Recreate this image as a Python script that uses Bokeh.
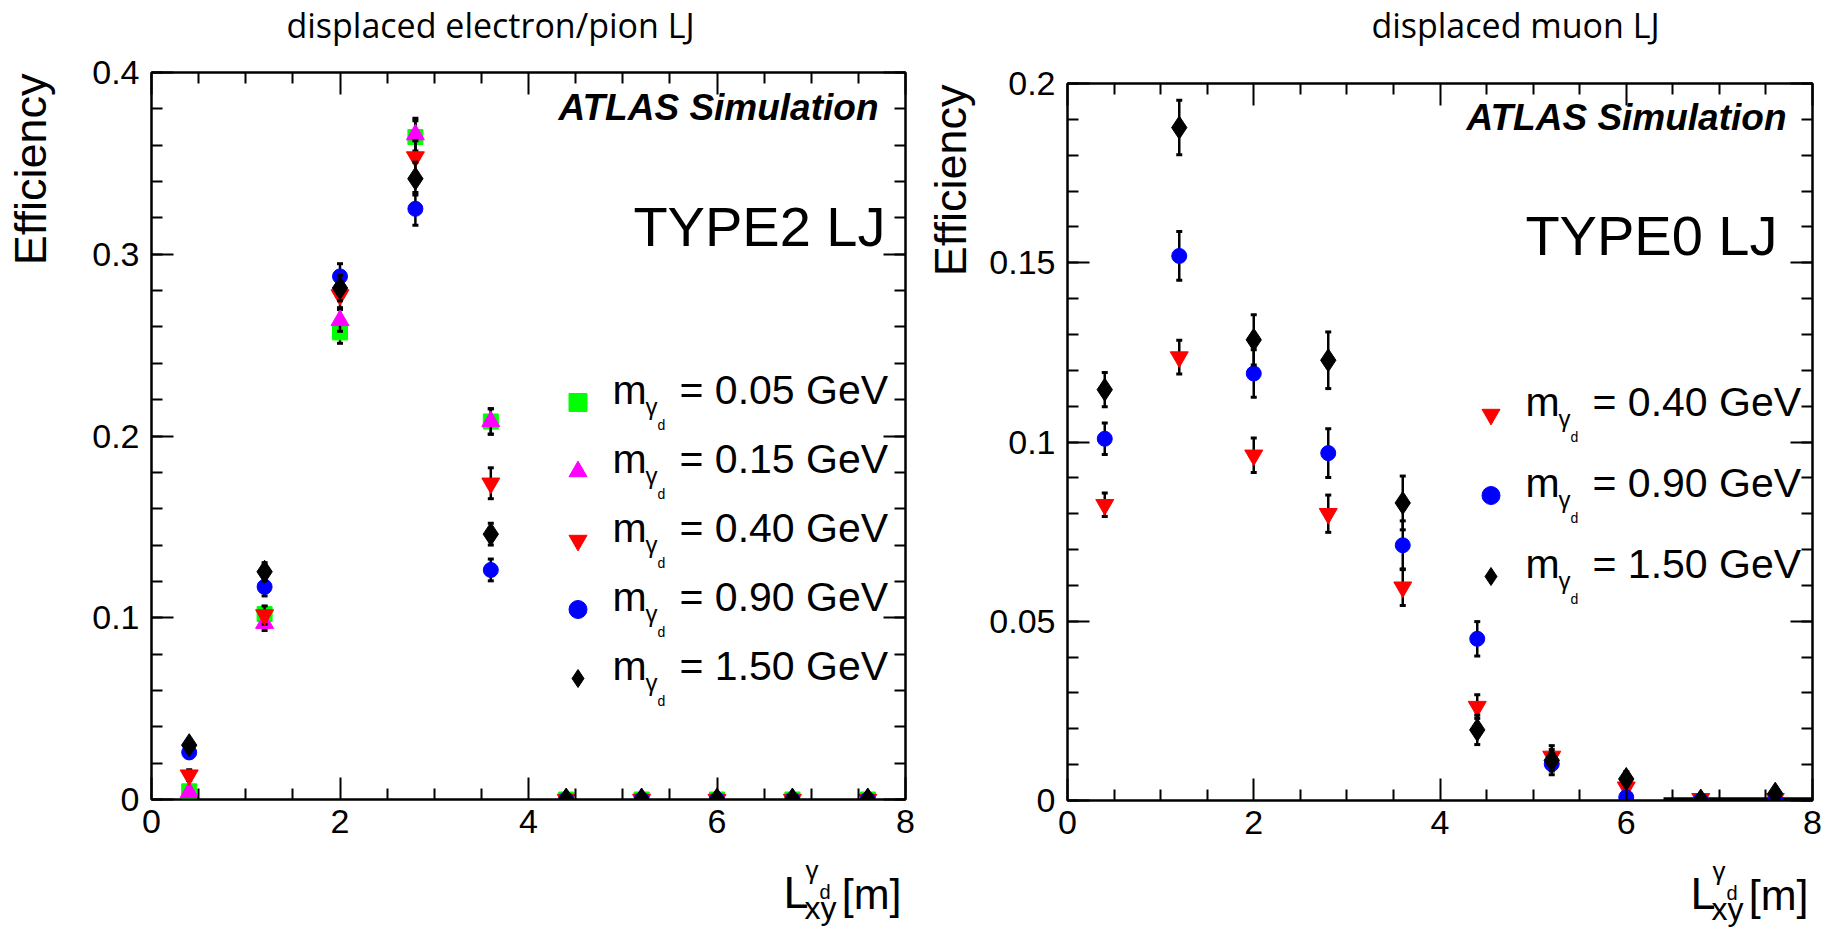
from bokeh.plotting import figure
from bokeh.models import (FixedTicker, CustomJSTickFormatter, LinearAxis, Label, Legend,
                          LegendItem, Range1d, ColumnDataSource)
from bokeh.layouts import row, column
from bokeh.embed import file_html
from bokeh.resources import INLINE
import math

# ---------------- data ----------------
x_bins = [0.4, 1.2, 2.0, 2.8, 3.6, 4.4, 5.2, 6.0, 6.8, 7.6]

# displaced electron/pion LJ (TYPE2)
ep_labels = ["0.05", "0.15", "0.40", "0.90", "1.50"]
ep_005 = [0.0045, 0.102, 0.257, 0.3645, 0.208, 0, 0, 0, 0, 0]
ep_005_err = [0.002, 0.004, 0.006, 0.009, 0.007, 0, 0, 0, 0, 0]
ep_015 = [0.004, 0.097, 0.2636, 0.3658, 0.208, 0, 0, 0, 0, 0]
ep_015_err = [0.002, 0.004, 0.006, 0.009, 0.007, 0, 0, 0, 0, 0]
ep_040 = [0.0134, 0.1015, 0.2776, 0.3535, 0.174, 0, 0, 0, 0, 0]
ep_040_err = [0.003, 0.005, 0.007, 0.009, 0.0085, 0, 0, 0, 0, 0]
ep_090 = [0.0259, 0.117, 0.2878, 0.325, 0.1263, 0, 0, 0, 0, 0]
ep_090_err = [0.003, 0.005, 0.007, 0.009, 0.006, 0, 0, 0, 0, 0]
ep_150 = [0.0299, 0.1253, 0.2814, 0.3416, 0.146, 0, 0, 0, 0, 0]
ep_150_err = [0.003, 0.005, 0.007, 0.009, 0.006, 0, 0, 0, 0, 0]

# displaced muon LJ (TYPE0)
mu_labels = ["0.40", "0.90", "1.50"]
mu_040 = [0.0825, 0.1237, 0.0963, 0.0800, 0.0595, 0.0262, 0.0123, 0.0037, 0.0005, 0.0005]
mu_040_err = [0.0033, 0.0047, 0.0048, 0.0052, 0.0051, 0.0033, 0.003, 0.002, 0.001, 0.001]
mu_040_xerr = [0, 0, 0, 0, 0, 0, 0, 0, 0.4, 0.4]
mu_090 = [0.1009, 0.1519, 0.1191, 0.0969, 0.0712, 0.0451, 0.0102, 0.0009, 0.0, 0.0]
mu_090_err = [0.0044, 0.0068, 0.0066, 0.0068, 0.0068, 0.0048, 0.003, 0.001, 0, 0]
mu_150 = [0.1146, 0.1877, 0.1285, 0.1228, 0.0830, 0.0197, 0.0112, 0.0060, 0.0, 0.0019]
mu_150_err = [0.0048, 0.0076, 0.0070, 0.0079, 0.0075, 0.0041, 0.003, 0.002, 0, 0.001]

x_ticks = [0, 2, 4, 6, 8]
x_minor = [0.5, 1, 1.5, 2.5, 3, 3.5, 4.5, 5, 5.5, 6.5, 7, 7.5]
ep_yticks = [0, 0.1, 0.2, 0.3, 0.4]
ep_yminor = [round(0.02 * i, 2) for i in range(21)]
mu_yticks = [0, 0.05, 0.1, 0.15, 0.2]
mu_yminor = [round(0.01 * i, 2) for i in range(21)]

FONT = "Liberation Sans"
TITLE_FONT = "Open Sans"
TICK_FS = "34px"
K_BASE = 0.39   # observed baseline offset of Label text (fraction of font size)

# page layout (pixels)
TITLE_H = 48
MID_H = 807
XLAB_H = 72
YLAB_W = 66


def fmt():
    return CustomJSTickFormatter(code="return String(+tick.toFixed(3));")


def style_axis(ax, show_labels):
    ax.major_tick_in = 22
    ax.major_tick_out = 0
    ax.minor_tick_in = 11
    ax.minor_tick_out = 0
    ax.major_tick_line_width = 2
    ax.minor_tick_line_width = 2
    ax.axis_line_width = 2
    ax.major_tick_line_color = "black"
    ax.minor_tick_line_color = "black"
    ax.axis_line_color = "black"
    if show_labels:
        ax.major_label_text_font = FONT
        ax.major_label_text_font_size = TICK_FS
        ax.major_label_text_color = "black"
    else:
        ax.major_label_text_font_size = "0px"
        ax.major_label_standoff = 0


def blank(W, H):
    f = figure(width=W, height=H, x_range=Range1d(0, 1), y_range=Range1d(0, 1),
               output_backend="svg", toolbar_location=None, title=None,
               x_axis_location=None, y_axis_location=None, min_border=0)
    f.outline_line_color = None
    f.xgrid.grid_line_color = None
    f.ygrid.grid_line_color = None
    f.background_fill_color = "white"
    f.border_fill_color = "white"
    return f


def make_panel(W, H, bl, br, bt, bb, ymax, yticks, yminor):
    p = figure(width=W, height=H, x_range=Range1d(0, 8), y_range=Range1d(0, ymax),
               output_backend="svg", toolbar_location=None, title=None,
               x_axis_location=None, y_axis_location=None,
               min_border_left=bl, min_border_right=br,
               min_border_top=bt, min_border_bottom=bb)
    p.outline_line_color = "black"
    p.outline_line_width = 2
    p.background_fill_color = "white"
    p.border_fill_color = "white"
    p.xgrid.grid_line_color = None
    p.ygrid.grid_line_color = None
    for loc in ["below", "above"]:
        ax = LinearAxis(ticker=FixedTicker(ticks=x_ticks, minor_ticks=x_minor), formatter=fmt())
        style_axis(ax, loc == "below")
        if loc == "below":
            ax.major_label_standoff = 10
        p.add_layout(ax, loc)
    for loc in ["left", "right"]:
        ax = LinearAxis(ticker=FixedTicker(ticks=yticks, minor_ticks=yminor), formatter=fmt())
        style_axis(ax, loc == "left")
        if loc == "left":
            ax.major_label_standoff = 12
        p.add_layout(ax, loc)
    return p


def add_series(p, ys, errs, marker, size, color, xerr=None):
    src = ColumnDataSource(dict(
        x=x_bins, y=ys,
        lo=[y - e for y, e in zip(ys, errs)],
        hi=[y + e for y, e in zip(ys, errs)]))
    keep = [i for i, e in enumerate(errs) if e > 0]
    cap = ColumnDataSource(dict(
        x=[x_bins[i] for i in keep],
        lo=[ys[i] - errs[i] for i in keep],
        hi=[ys[i] + errs[i] for i in keep]))
    p.segment(x0="x", y0="lo", x1="x", y1="hi", source=src, line_color="black", line_width=2.5)
    p.scatter("x", "hi", source=cap, marker="dash", size=6, line_width=3, line_color="black")
    p.scatter("x", "lo", source=cap, marker="dash", size=6, line_width=3, line_color="black")
    if xerr is not None:
        k = [i for i, e in enumerate(xerr) if e > 0]
        xs = ColumnDataSource(dict(x0=[x_bins[i] - xerr[i] for i in k],
                                   x1=[x_bins[i] + xerr[i] for i in k],
                                   y=[ys[i] for i in k]))
        p.segment(x0="x0", y0="y", x1="x1", y1="y", source=xs, line_color="black", line_width=3)
    r = p.scatter("x", "y", source=src, marker=marker, size=size,
                  fill_color=color, line_color=color)
    return r


def lab(p, left, bottom, X, Y, text, fs, font=FONT, align="left", style="normal", angle=0.0):
    """Place a label whose baseline starts at page point (X, Y) (origin top-left)."""
    px = float(fs.replace("px", ""))
    d = K_BASE * px
    X2 = X - d * math.sin(angle)
    Y2 = Y - d * math.cos(angle)
    p.add_layout(Label(x=X2 - left, y=bottom - Y2, x_units="screen", y_units="screen", text=text,
                       text_font=font, text_font_size=fs, text_font_style=style,
                       text_align=align, text_baseline="alphabetic", angle=angle,
                       text_color="black"))


def legend_texts(p, left, bottom, gx, centers, labels):
    for c, t in zip(centers, labels):
        lab(p, left, bottom, gx + 34, c + 3, "m", "41px")
        lab(p, left, bottom, gx + 67, c + 13, "\u03b3", "24px")
        lab(p, left, bottom, gx + 79, c + 28, "d", "14px")
        lab(p, left, bottom, gx + 101, c + 3, "= %s GeV" % t, "41px")


def xlabel(f, left, bottom, FR, FB):
    lab(f, left, bottom, FR - 122, FB + 111, "L", "45px")
    lab(f, left, bottom, FR - 101, FB + 121, "xy", "32px")
    lab(f, left, bottom, FR - 100, FB + 81, "\u03b3", "26px")
    lab(f, left, bottom, FR - 86, FB + 100, "d", "20px")
    lab(f, left, bottom, FR - 4, FB + 111, "[m]", "43px", align="right")


def build(panel_x, panel_w, frame, ymax, yticks, yminor, series, labels, leg_cfg,
          title, title_cx, atlas, type_txt, eff_x):
    FLp, FRp, FTp, FBp = frame  # page coordinates of the plotting frame
    main_w = panel_w - YLAB_W
    main_left = panel_x + YLAB_W
    p = make_panel(main_w, MID_H, FLp - main_left, main_left + main_w - FRp,
                   FTp - TITLE_H, TITLE_H + MID_H - FBp, ymax, yticks, yminor)
    rends = []
    for ys, errs, mk, sz, col, xe in series:
        rends.append(add_series(p, ys, errs, mk, sz, col, xerr=xe))
    gx, c0, stride, vx, vy, spacing = leg_cfg
    leg = Legend(items=[LegendItem(label="", renderers=[r]) for r in rends],
                 location=(vx, vy), glyph_width=45, glyph_height=50, label_height=50,
                 label_width=0, spacing=spacing, padding=0, margin=0, label_standoff=0,
                 label_text_font=FONT, label_text_font_size="41px", label_text_color="black",
                 border_line_alpha=0, background_fill_alpha=0)
    p.add_layout(leg)
    legend_texts(p, FLp, FBp, gx, [c0 + stride * i for i in range(len(labels))], labels)
    ax_x, ax_y, ax_fs = atlas
    lab(p, FLp, FBp, ax_x, ax_y, "ATLAS Simulation", ax_fs, style="bold italic", align="right")
    tx, ty, tfs, ttxt = type_txt
    lab(p, FLp, FBp, tx, ty, ttxt, tfs, align="right")

    # title strip (its frame is the whole strip)
    tfig = blank(panel_w, TITLE_H)
    lab(tfig, panel_x, TITLE_H, title_cx, 38, title, "34px", font=TITLE_FONT, align="center")

    # y-label strip: its frame is aligned with the main frame vertically
    yfig = blank(YLAB_W, MID_H)
    lab(yfig, panel_x, FBp, eff_x, FTp + 1, "Efficiency", "45px", align="right",
        angle=math.pi / 2)

    # x-label strip
    xfig = blank(panel_w, XLAB_H)
    xlabel(xfig, panel_x, TITLE_H + MID_H + XLAB_H, FRp, FBp)

    return column(tfig, row(yfig, p), xfig)


left_panel = build(
    0, 915, (151, 905, 72, 799), 0.4, ep_yticks, ep_yminor,
    [(ep_005, ep_005_err, "square", 15, "#00ff00", None),
     (ep_015, ep_015_err, "triangle", 18, "#ff00ff", None),
     (ep_040, ep_040_err, "inverted_triangle", 18, "#ff0000", None),
     (ep_090, ep_090_err, "circle", 15, "#0000ff", None),
     (ep_150, ep_150_err, "diamond", 23, "#000000", None)],
    ep_labels,
    (578, 402, 69, 555 - 151, 96, 19),
    "displaced electron/pion LJ", 490, (878, 121, "37px"), (885, 248, "56px", "TYPE2 LJ"), 48)

right_panel = build(
    915, 916, (1067, 1812, 83, 800), 0.2, mu_yticks, mu_yminor,
    [(mu_040, mu_040_err, "inverted_triangle", 18, "#ff0000", mu_040_xerr),
     (mu_090, mu_090_err, "circle", 15, "#0000ff", None),
     (mu_150, mu_150_err, "diamond", 23, "#000000", None)],
    mu_labels,
    (1491, 414, 81, 1468 - 1067, 199, 31),
    "displaced muon LJ", 1515, (1786, 131, "37px"), (1777, 257, "56px", "TYPE0 LJ"), 968)

layout = row(left_panel, right_panel)
open("out.html", "w").write(file_html(layout, INLINE))
